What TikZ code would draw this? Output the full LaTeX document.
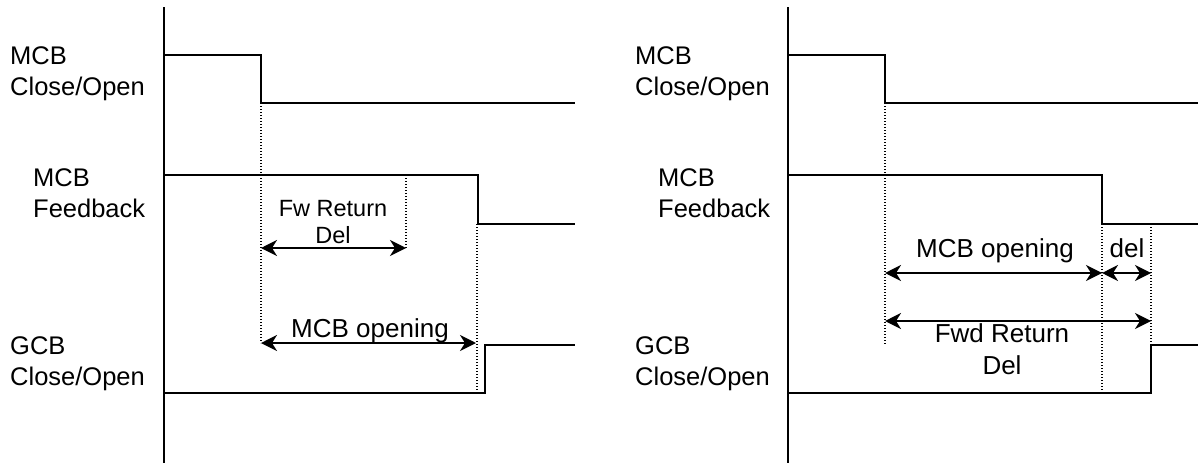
\documentclass[tikz,border=0pt]{standalone}
\usepackage{fontspec}
\setmainfont{Liberation Sans}
\usetikzlibrary{arrows.meta}
\tikzset{
  sig/.style={line width=2pt, line join=miter},
  axisline/.style={line width=2pt},
  guideline/.style={line width=1.2pt, dash pattern=on 1.2pt off 1.8pt},
  dimarrow/.style={line width=2pt, {Stealth[length=16pt,width=16pt,inset=5pt]}-{Stealth[length=16pt,width=16pt,inset=5pt]}},
  lab/.style={anchor=base west, align=left, inner sep=0pt, font=\fontsize{25.5}{30.5}\selectfont},
  ilab/.style={anchor=base, align=center, inner sep=0pt, font=\fontsize{26}{32}\selectfont},
  slab/.style={anchor=base, align=center, inner sep=0pt, font=\fontsize{23.5}{27}\selectfont},
}
\begin{document}
\begin{tikzpicture}[x=1pt,y=-1pt]
\useasboundingbox (0,0) rectangle (1198,463);
% ---------------- left panel ----------------
\draw[axisline] (164,7) -- (164,463);
\draw[sig] (164,55) -- (261,55) -- (261,103) -- (575,103);
\draw[sig] (164,175) -- (478,175) -- (478,224) -- (575,224);
\draw[sig] (164,393) -- (485,393) -- (485,345) -- (575,345);
\draw[guideline] (261,103) -- (261,343);
\draw[guideline] (406,175) -- (406,248);
\draw[guideline] (477,224) -- (477,392);
\coordinate (La1) at (261,248);
\coordinate (Lb1) at (406,248);
\coordinate (La2) at (261,343);
\coordinate (Lb2) at (476,343);
\draw[dimarrow] (La1) -- (Lb1);
\draw[dimarrow] (La2) -- (Lb2);
% multi-line nodes: base anchor is the baseline of the last line
\node[lab] (l1) at (10,95) {MCB\\Close/Open};
\node[lab] (l2) at (33,217) {MCB\\Feedback};
\node[lab] (l3) at (10,385) {GCB\\Close/Open};
\node[slab] (fw) at (333,243) {Fw Return\\Del};
\node[ilab] (mo1) at (370,337) {MCB opening};
% ---------------- right panel ----------------
\draw[axisline] (788,7) -- (788,463);
\draw[sig] (788,55) -- (885,55) -- (885,103) -- (1198,103);
\draw[sig] (788,175) -- (1102,175) -- (1102,224) -- (1198,224);
\draw[sig] (788,393) -- (1151,393) -- (1151,345) -- (1198,345);
\draw[guideline] (885,103) -- (885,344);
\draw[guideline] (1102,224) -- (1102,392);
\draw[guideline] (1151,224) -- (1151,344);
\coordinate (Ra1) at (885,273);
\coordinate (Rb1) at (1102,273);
\coordinate (Rc1) at (1151,273);
\coordinate (Ra2) at (885,321);
\coordinate (Rc2) at (1151,321);
\draw[dimarrow] (Ra1) -- (Rb1);
\draw[dimarrow] (Rb1) -- (Rc1);
\draw[dimarrow] (Ra2) -- (Rc2);
\node[lab] (r1) at (635,95) {MCB\\Close/Open};
\node[lab] (r2) at (658,217) {MCB\\Feedback};
\node[lab] (r3) at (635,385) {GCB\\Close/Open};
\node[ilab] (mo2) at (995,257) {MCB opening};
\node[ilab] (del) at (1127,257) {del};
\node[ilab] (fwd) at (1002,374) {Fwd Return\\Del};
\end{tikzpicture}
\end{document}
